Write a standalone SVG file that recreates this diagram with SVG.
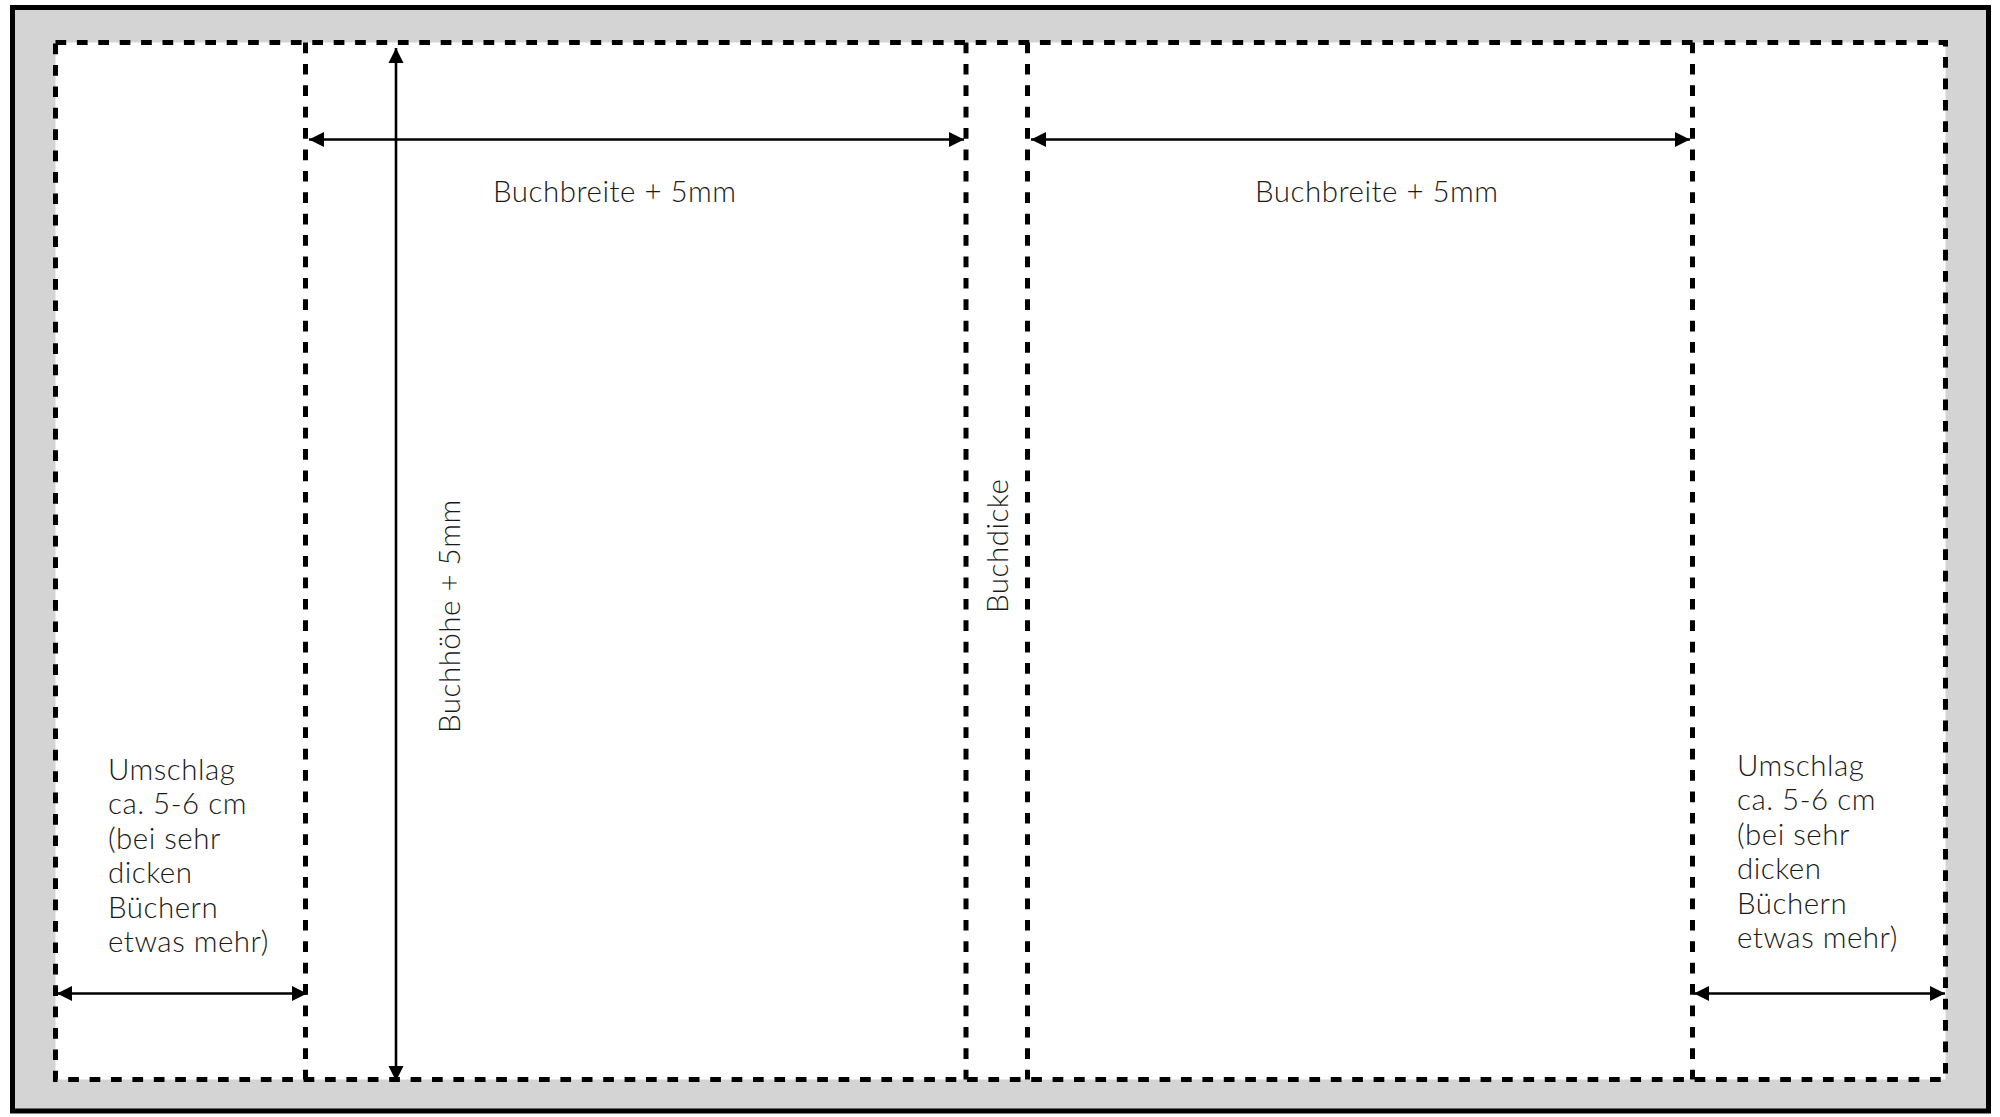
<svg xmlns="http://www.w3.org/2000/svg" width="2000" height="1117" viewBox="0 0 2000 1117">
<defs>
<marker id="ah" markerUnits="userSpaceOnUse" markerWidth="16" markerHeight="16" viewBox="0 0 16 16" refX="15" refY="8" orient="auto-start-reverse">
<path d="M0,0.5 L15,8 L0,15.5 Z" fill="#000"/>
</marker>
</defs>
<style>
.dash{fill:none;stroke:#000;stroke-width:5;stroke-dasharray:10.7 10.7}
.arr{fill:none;stroke:#000;stroke-width:2.6;marker-start:url(#ah);marker-end:url(#ah)}
.lbl{font-family:Lato,"Open Sans","Liberation Sans",sans-serif;font-weight:300;font-size:29.5px;letter-spacing:0.5px;fill:#1a1a1a}
</style>
<rect x="12.5" y="7.5" width="1976" height="1103.5" fill="#d4d4d4" stroke="#000" stroke-width="5"/>
<g id="sheet">
<rect x="55.5" y="42.5" width="1890" height="1037" fill="#fff"/>
<rect class="dash" x="55.5" y="42.5" width="1890" height="1037"/>
</g>
<g id="folds">
<line class="dash" x1="305.5" y1="42.5" x2="305.5" y2="1079.5"/>
<line class="dash" x1="966" y1="42.5" x2="966" y2="1079.5"/>
<line class="dash" x1="1027.5" y1="42.5" x2="1027.5" y2="1079.5"/>
<line class="dash" x1="1692.5" y1="42.5" x2="1692.5" y2="1079.5"/>
</g>
<g id="connectors">
<line class="arr" x1="309" y1="139.5" x2="964" y2="139.5"/>
<line class="arr" x1="1031" y1="139.5" x2="1690" y2="139.5"/>
<line class="arr" x1="396" y1="48" x2="396" y2="1081"/>
<line class="arr" x1="57" y1="993.5" x2="307" y2="993.5"/>
<line class="arr" x1="1694" y1="993.5" x2="1945" y2="993.5"/>
</g>
<g id="label-back-width"><text class="lbl" x="493" y="201.5">Buchbreite + 5mm</text></g>
<g id="label-front-width"><text class="lbl" x="1255" y="201.5">Buchbreite + 5mm</text></g>
<g id="label-height"><text class="lbl" transform="translate(460,733) rotate(-90)">Buchhöhe + 5mm</text></g>
<g id="label-spine"><text class="lbl" transform="translate(1008,613) rotate(-90)">Buchdicke</text></g>
<g id="label-flap-left"><text class="lbl" x="108" y="780">
<tspan x="108" y="780">Umschlag</tspan>
<tspan x="108" y="814.4">ca. 5-6 cm</tspan>
<tspan x="108" y="848.8">(bei sehr</tspan>
<tspan x="108" y="883.2">dicken</tspan>
<tspan x="108" y="917.6">Büchern</tspan>
<tspan x="108" y="952">etwas mehr)</tspan>
</text></g>
<g id="label-flap-right"><text class="lbl" x="1737" y="776">
<tspan x="1737" y="776">Umschlag</tspan>
<tspan x="1737" y="810.4">ca. 5-6 cm</tspan>
<tspan x="1737" y="844.8">(bei sehr</tspan>
<tspan x="1737" y="879.2">dicken</tspan>
<tspan x="1737" y="913.6">Büchern</tspan>
<tspan x="1737" y="948">etwas mehr)</tspan>
</text></g>
</svg>
